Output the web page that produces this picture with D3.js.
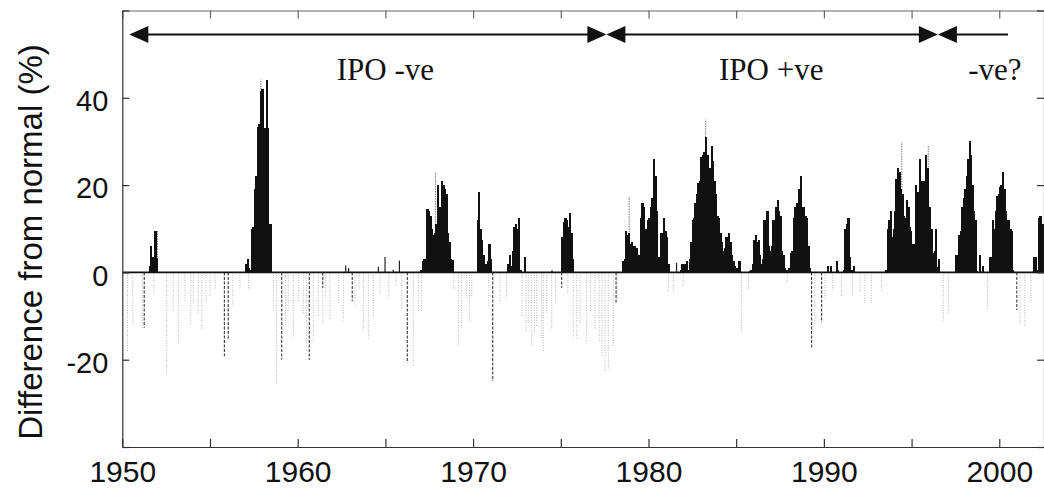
<!DOCTYPE html>
<html>
<head>
<meta charset="utf-8">
<script src="https://cdn.jsdelivr.net/npm/d3@7"></script>
<style>
  body { margin: 0; background: #fff; }
  .tick-label { font-family: "Liberation Sans", Arial, Helvetica, sans-serif; }
  .note { font-family: "Liberation Serif", "Times New Roman", serif; }
</style>
</head>
<body>
<div id="container"></div>
<script>
const width = 1044;
const height = 489;

// positive anomalies: monthly values, one list per wet episode
const episodeStart = [1951.5, 1957.0, 1967.0, 1970.2, 1971.96, 1975.04, 1978.5, 1981.79, 1985.55, 1990.0, 1993.5, 1997.5, 1999.4, 2001.94];
const episodeValues = [
  [1.5, 6, 3.5, 3.5, 9.5, 3.3],
  [2, 3, 1, 0.5, 10, 10.4, 19, 22, 33.3, 34, 41.5, 42, 1, 33, 44, 33, 11, 11],
  [0.5, 2.5, 3, 2.7, 14.5, 14, 13, 10, 8.5, 9, 11, 20, 13, 15, 21, 20, 19, 18, 9, 7, 3, 2.8],
  [12, 18.5, 10, 7.5, 4, 0.5, 2, 2.5, 6.5, 3],
  [2, 4, 1.5, 5, 10.5, 11, 10, 12.5, 0.5, 0, 0, 3.5],
  [8, 11.5, 12.5, 12, 10.5, 13.5, 9, 3],
  [2.5, 3, 9.5, 8.5, 9, 6.5, 7, 6, 6, 5.5, 3.5, 4, 12.5, 16, 15, 10, 10, 12, 12.5, 15, 17, 26, 22, 14, 3.5, 3, 9, 8, 12.5, 9.5, 8, 2],
  [0.5, 2, 0.5, 2, 2.5, 0.5, 3, 7, 12, 12.5, 16, 18, 20.5, 21, 26.5, 27, 27.5, 31, 27, 21, 24, 29, 25.5, 21, 18, 13, 12.5, 9, 7, 5, 5.5, 8, 7.5, 9, 7, 4, 2.5, 1.5, 1, 0.5, 2.5],
  [0, 0, 0.3, 0.5, 2, 7.5, 8.5, 7, 7.5, 4, 2, 3, 12, 12, 14, 6, 5, 6, 12, 12, 15, 16.5, 14, 13, 5, 4, 1, 0.5, 0.5, 1, 4.5, 5, 12.5, 15, 16, 14.5, 19, 22, 15, 15, 13, 12.5, 6, 1],
  [0, 0, 1.5, 0, 1.5, 0, 0, 0, 2.5, 0.5, 0, 0, 0, 0.5, 10, 11, 12.5, 3.5, 0.5, 0, 1.5],
  [0.5, 10, 12, 14, 8, 10, 14, 21.5, 24, 23, 19, 18, 13, 12.5, 16.5, 15, 10.5, 9.5, 6.5, 6.5, 20, 18.5, 18.5, 26, 21, 21, 21, 27, 24, 15, 15, 10, 4.5, 5, 10, 1.2, 3],
  [4, 0.5, 8.5, 9.5, 15, 17, 19, 22, 26, 30, 27, 20, 14, 12, 0.3, 0, 4, 0, 1.5],
  [3.5, 3.5, 12, 10, 14, 17.5, 18, 19.5, 20, 23, 19, 14, 12, 12, 10, 9.5, 0.5],
  [3.5, 3.5, 0.5, 12.5, 13, 10, 11]
];

// isolated small positive spikes
const minorYears = [1962.74, 1962.9, 1964.6, 1964.98, 1965.45, 1965.8, 1974.5, 1981.6];
const minorValues = [1.6, 1.0, 1.3, 3.5, 0.6, 2.7, 0.5, 2.2];

// faint daily peaks standing above the monthly fill
const peakYears = [1952.0, 1957.9, 1967.85, 1978.9, 1983.26, 1994.44, 1995.95, 1998.3];
const peakValues = [9.5, 44.2, 23, 17.4, 35, 29.9, 29.1, 30.3];

// negative anomalies, faint lines
const negYears = [1950.3, 1950.6, 1951.14, 1951.8, 1952.53, 1952.9, 1953.19, 1953.57, 1953.9, 1954.05, 1954.33, 1954.53, 1954.77, 1955.0, 1955.29, 1956.3, 1956.71, 1957.2, 1958.61, 1958.8, 1959.3, 1959.46, 1959.75, 1960.03, 1960.32, 1960.51, 1960.89, 1961.17, 1961.43, 1961.6, 1961.84, 1962.31, 1962.6, 1963.27, 1963.5, 1963.74, 1964.03, 1964.31, 1964.69, 1965.2, 1965.6, 1965.93, 1966.59, 1966.88, 1967.07, 1968.9, 1969.16, 1969.35, 1969.64, 1969.8, 1969.92, 1970.9, 1971.53, 1971.9, 1972.8, 1973.02, 1973.15, 1973.34, 1973.5, 1973.63, 1973.91, 1974.0, 1974.2, 1974.48, 1974.7, 1975.4, 1975.71, 1975.91, 1976.1, 1976.48, 1976.7, 1976.95, 1977.19, 1977.35, 1977.52, 1977.71, 1977.99, 1978.2, 1981.13, 1981.41, 1981.98, 1985.31, 1985.69, 1987.91, 1989.49, 1990.06, 1990.5, 1991.01, 1991.64, 1992.06, 1992.34, 1992.72, 1993.29, 1996.81, 1997.09, 1999.32, 2001.18, 2001.46, 2001.8];
const negValues = [-18, -12, -12.7, -5, -23.4, -9, -16.5, -6.6, -12, -7.4, -9.7, -13.1, -7, -5.5, -4, -8, -3.6, -4, -8.5, -25.6, -12, -9, -15.4, -6.6, -9.7, -18, -15.6, -10, -12, -6, -10.8, -7, -11, -7.8, -4, -13.8, -15.4, -10, -5, -6, -3, -8.5, -21.8, -8.9, -9, -4, -16.9, -12.7, -6, -11, -5.6, -8, -7, -6, -10, -13.5, -11.9, -16.9, -14, -12.4, -15.4, -18, -9.3, -13.1, -7, -5, -15, -15.4, -12, -15.9, -9, -13.1, -15.9, -19, -22.6, -22.3, -16.9, -6, -4.3, -4.7, -3.3, -13.8, -3.9, -2.4, -11.9, -6, -4.1, -5.6, -5.3, -4.6, -7, -7, -4.3, -11, -9.3, -8.5, -11.9, -12.4, -7];

// negative anomalies, darker dashed lines
const darkYears = [1951.25, 1955.82, 1956.04, 1959.09, 1960.66, 1961.43, 1963.11, 1966.25, 1971.12, 1975.05, 1978.15, 1989.3, 1989.87, 2001.0];
const darkValues = [-12.7, -19.2, -15.4, -20, -20, -3.5, -6.6, -20.7, -24.9, -3.5, -7, -17.3, -11.5, -8.6];

// IPO phase annotations
const phaseStart = [1950.4, 1977.6, 1996.5];
const phaseEnd = [1977.6, 1996.5, 2000.5];
const phaseRightHead = [true, true, false];
const phaseLabels = ["IPO -ve", "IPO +ve", "-ve?"];
const phaseLabelYear = [1965.0, 1987.0, 1999.75];

const xTicks = d3.range(1950, 2001, 5);
const yTicks = [-40, -20, 0, 20, 40, 60];
const yLabelled = [-20, 0, 20, 40];

const x = d3.scaleLinear().domain([1950, 2002.55]).range([122.3, 1044]);
const y = d3.scaleLinear().domain([-40, 60]).range([447, 10.5]);

const svg = d3.select("#container")
              .append("svg")
              .attr("width", width)
              .attr("height", height)
              .style("display", "block");

// negatives first so the zero line sits on top
svg.append("g")
   .selectAll("line")
   .data(negYears)
   .enter()
   .append("line")
   .attr("x1", d => x(d))
   .attr("x2", d => x(d))
   .attr("y1", y(0))
   .attr("y2", (d, i) => y(negValues[i]))
   .attr("stroke", "#b4b4b4")
   .attr("stroke-width", 1)
   .attr("stroke-dasharray", "1,1.5");

svg.append("g")
   .selectAll("line")
   .data(darkYears)
   .enter()
   .append("line")
   .attr("x1", d => x(d))
   .attr("x2", d => x(d))
   .attr("y1", y(0))
   .attr("y2", (d, i) => y(darkValues[i]))
   .attr("stroke", "#3a3a3a")
   .attr("stroke-width", 1.1)
   .attr("stroke-dasharray", "3,1.5");

// faint daily peaks
svg.append("g")
   .selectAll("line")
   .data(peakYears)
   .enter()
   .append("line")
   .attr("x1", d => x(d))
   .attr("x2", d => x(d))
   .attr("y1", y(0))
   .attr("y2", (d, i) => y(peakValues[i]))
   .attr("stroke", "#777")
   .attr("stroke-width", 1)
   .attr("stroke-dasharray", "1.5,1");

// monthly positive bars
const bars = [];
episodeStart.forEach((s, e) => {
  episodeValues[e].forEach((v, i) => bars.push({ t: s + i / 12, v: v }));
});
svg.append("g")
   .attr("shape-rendering", "crispEdges")
   .selectAll("rect")
   .data(bars.filter(d => d.v > 0))
   .enter()
   .append("rect")
   .attr("x", d => x(d.t))
   .attr("width", d => x(d.t + 1 / 12) - x(d.t) + 0.9)
   .attr("y", d => y(d.v))
   .attr("height", d => y(0) - y(d.v))
   .attr("fill", "#111");

svg.append("g")
   .selectAll("line")
   .data(minorYears)
   .enter()
   .append("line")
   .attr("x1", d => x(d))
   .attr("x2", d => x(d))
   .attr("y1", y(0))
   .attr("y2", (d, i) => y(minorValues[i]))
   .attr("stroke", "#222")
   .attr("stroke-width", 1.2);

// zero line
svg.append("line")
   .attr("x1", x(1950))
   .attr("x2", x(2002.55))
   .attr("y1", y(0))
   .attr("y2", y(0))
   .attr("stroke", "#111")
   .attr("stroke-width", 1.6);

// axes with inward ticks
const bottomAxis = svg.append("g")
                      .attr("transform", "translate(0," + y(-40) + ")")
                      .call(d3.axisBottom(x).tickValues(xTicks).tickSizeInner(-8).tickSizeOuter(0)
                              .tickFormat(d => d % 10 === 0 ? d : ""));
bottomAxis.selectAll("text")
          .attr("class", "tick-label")
          .attr("y", 35)
          .attr("dy", 0)
          .style("font-size", "30px")
          .attr("fill", "#111");

const topAxis = svg.append("g")
                   .attr("transform", "translate(0," + y(60) + ")")
                   .call(d3.axisTop(x).tickValues(xTicks).tickSizeInner(-8).tickSizeOuter(0).tickFormat(""));

const leftAxis = svg.append("g")
                    .attr("transform", "translate(" + x(1950) + ",0)")
                    .call(d3.axisLeft(y).tickValues(yTicks).tickSizeInner(-7).tickSizeOuter(0)
                            .tickFormat(d => yLabelled.includes(d) ? d : ""));
leftAxis.selectAll("text")
        .attr("class", "tick-label")
        .attr("x", -14)
        .attr("dy", "0.44em")
        .style("font-size", "29px")
        .attr("fill", "#111");

const rightAxis = svg.append("g")
                     .attr("transform", "translate(" + x(2002.55) + ",0)")
                     .call(d3.axisRight(y).tickValues(yTicks).tickSizeInner(-7).tickSizeOuter(0).tickFormat(""));

[bottomAxis, topAxis, leftAxis, rightAxis].forEach(g => {
  g.selectAll(".domain").attr("stroke", "#333").attr("stroke-width", 1.2);
  g.selectAll(".tick line").attr("stroke", "#333").attr("stroke-width", 1.2);
});
topAxis.selectAll(".domain").attr("stroke", "#666");
topAxis.selectAll(".tick line").attr("stroke", "#666");

// y axis title
svg.append("text")
   .attr("class", "tick-label")
   .attr("transform", "translate(42," + 242 + ") rotate(-90)")
   .attr("text-anchor", "middle")
   .style("font-size", "33px")
   .attr("fill", "#111")
   .text("Difference from normal (%)");

// phase arrows
const arrowY = y(54.5);
const headLen = 19;
const headHalf = 8.5;
const phases = svg.append("g");
phaseStart.forEach((s, i) => {
  const x0 = x(s);
  const x1 = x(phaseEnd[i]);
  phases.append("line")
        .attr("x1", x0 + headLen - 2)
        .attr("x2", phaseRightHead[i] ? x1 - headLen + 2 : x1)
        .attr("y1", arrowY)
        .attr("y2", arrowY)
        .attr("stroke", "#111")
        .attr("stroke-width", 2);
  phases.append("path")
        .attr("d", "M" + x0 + "," + arrowY + "L" + (x0 + headLen) + "," + (arrowY - headHalf) + "L" + (x0 + headLen) + "," + (arrowY + headHalf) + "Z")
        .attr("fill", "#111");
  if (phaseRightHead[i]) {
    phases.append("path")
          .attr("d", "M" + x1 + "," + arrowY + "L" + (x1 - headLen) + "," + (arrowY - headHalf) + "L" + (x1 - headLen) + "," + (arrowY + headHalf) + "Z")
          .attr("fill", "#111");
  }
});

svg.append("g")
   .selectAll("text")
   .data(phaseLabels)
   .enter()
   .append("text")
   .attr("class", "note")
   .attr("x", (d, i) => x(phaseLabelYear[i]))
   .attr("y", y(44))
   .attr("text-anchor", "middle")
   .style("font-size", "31px")
   .attr("fill", "#111")
   .text(d => d);
</script>
</body>
</html>
